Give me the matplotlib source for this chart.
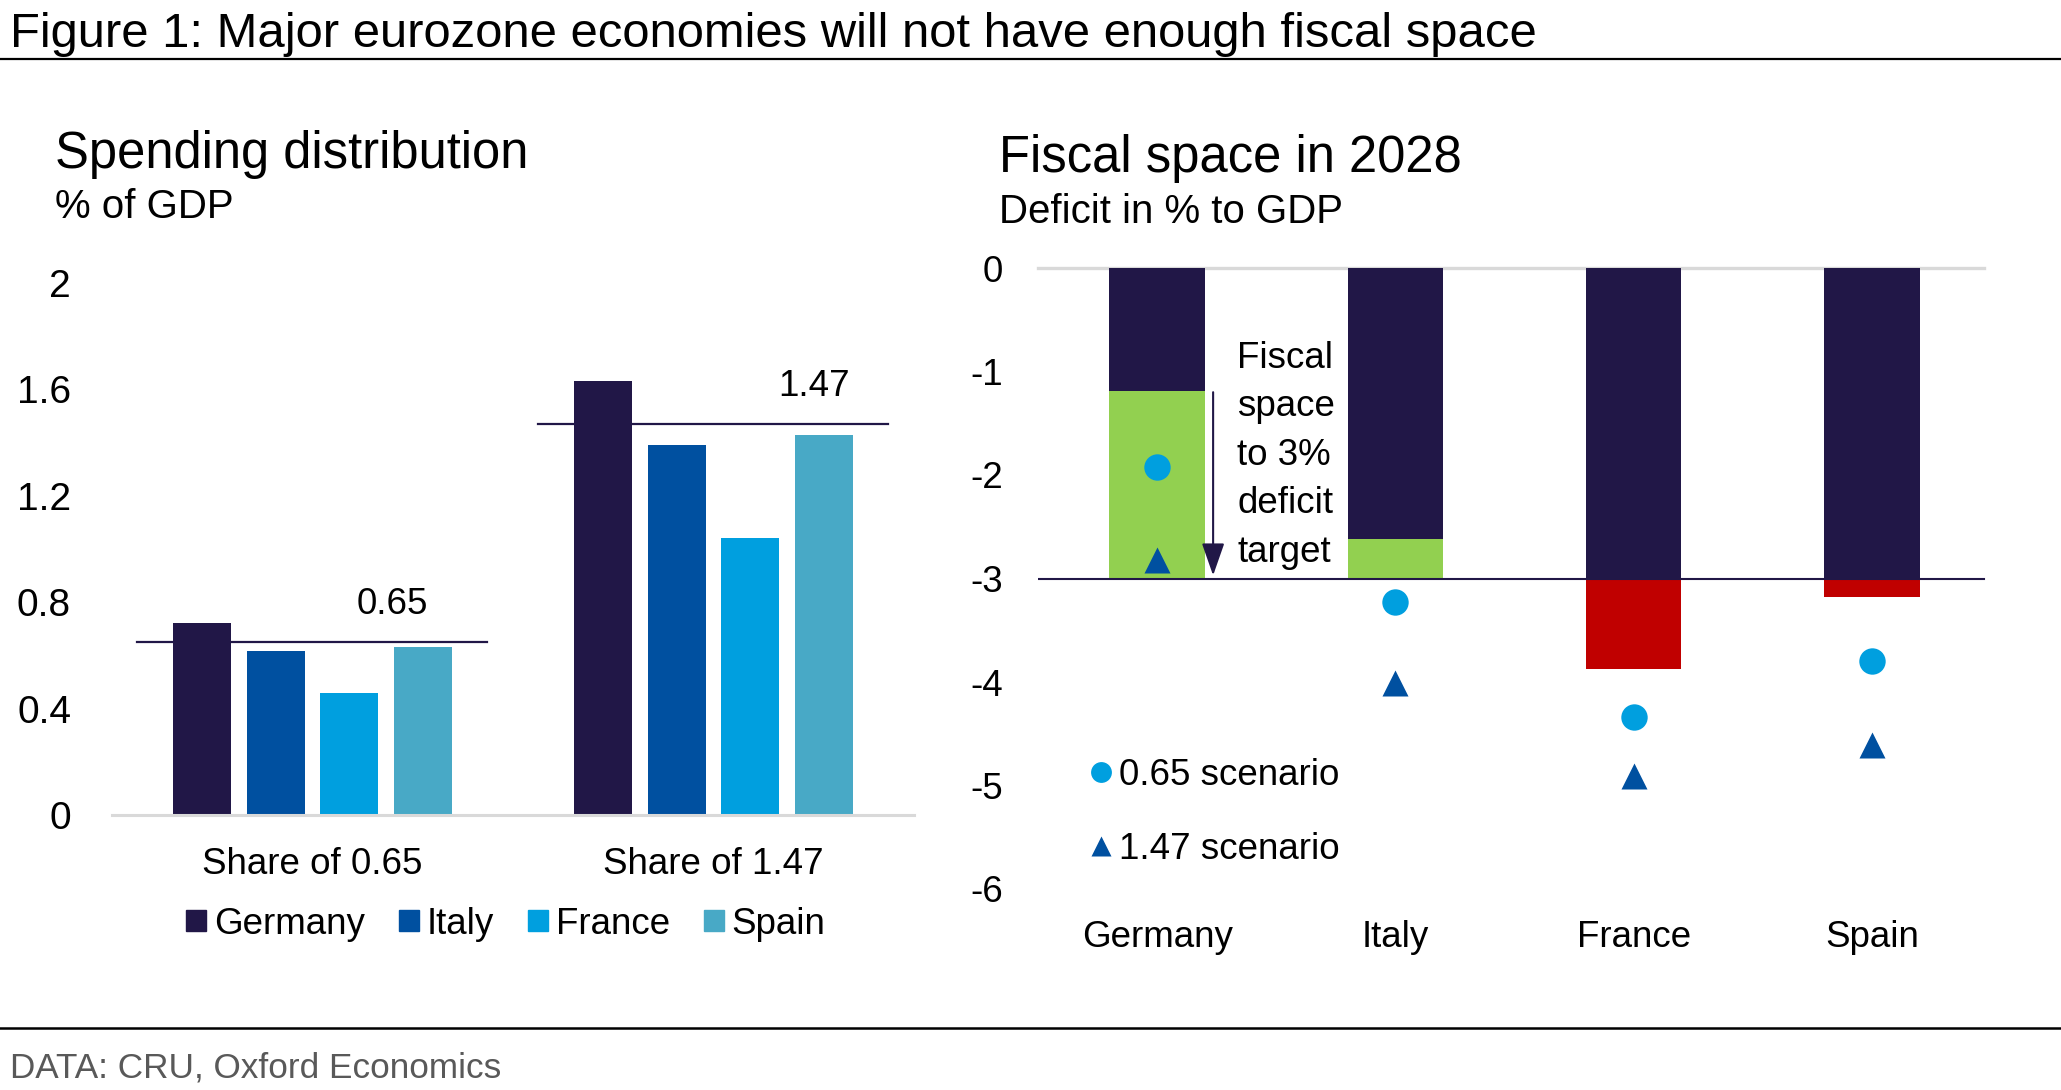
import matplotlib
matplotlib.use("Agg")
import matplotlib.pyplot as plt
from matplotlib.lines import Line2D
from matplotlib.patches import Patch
import numpy as np

plt.rcParams['font.family'] = ['Liberation Sans', 'DejaVu Sans']
plt.rcParams['axes.unicode_minus'] = False

# Figure size in pixels (dpi 100)
W, H = 2061, 1090

# Left panel: spending distribution, % of GDP
GROUPS = ["Share of 0.65", "Share of 1.47"]
SHARES = [0.65, 1.47]
COUNTRIES = ["Germany", "Italy", "France", "Spain"]
SPEND_065 = [0.72, 0.617, 0.46, 0.63]
SPEND_147 = [1.63, 1.39, 1.04, 1.43]

# Right panel: fiscal space in 2028, deficit in % of GDP
DEFICIT_2028 = [-1.19, -2.62, -3.87, -3.18]
TARGET = -3
SCEN_065 = [-1.92, -3.23, -4.34, -3.80]
SCEN_147 = [-2.82, -4.01, -4.91, -4.61]

# Colours
NAVY = "#211747"
C_COUNTRY = ["#211747", "#0050A0", "#009FDF", "#48A9C6"]
GREEN = "#92D050"
RED = "#C00000"
GRID = "#D9D9D9"

FS = 26.5
FS_SUB = 29
FS_TITLE = 35.3
FS_PANEL = 36.5

fig = plt.figure(figsize=(W / 100, H / 100), dpi=100)

# header / footer
fig.text(10 / W, 1 - 47 / H, "Figure 1: Major eurozone economies will not have enough fiscal space",
         fontsize=FS_TITLE, va="baseline", ha="left")
fig.add_artist(Line2D([0, 1], [1 - 59 / H, 1 - 59 / H], color="black", lw=1.6))
fig.add_artist(Line2D([0, 1], [1 - 1028 / H, 1 - 1028 / H], color="black", lw=1.8))
fig.text(10 / W, 1 - 1077 / H, "DATA: CRU, Oxford Economics", fontsize=25.3,
         color="#595959", va="baseline", ha="left")

# ---------------- left panel ----------------
ax1 = fig.add_axes([112 / W, 1 - 815 / H, 802 / W, 532 / H])
spend = np.array([SPEND_065, SPEND_147])  # groups x countries
xg = np.arange(len(GROUPS))
step = 0.1835
bw = 0.144
for i, c in enumerate(COUNTRIES):
    ax1.bar(xg + (i - 1.5) * step, spend[:, i], width=bw, color=C_COUNTRY[i],
            label=c, zorder=2)
for g, s in enumerate(SHARES):
    ax1.plot([g - 0.437, g + 0.435], [s, s], color=NAVY, lw=1.6, zorder=3)
    ax1.annotate(f"{s:.2f}", (g + 0.2 + 0.05 * g, s), xytext=(0, 20),
                 textcoords="offset points", ha="center", va="baseline", fontsize=FS)

ax1.set_xlim(-0.5, 1.5)
ax1.set_ylim(0, 2)
ax1.set_yticks([0, 0.4, 0.8, 1.2, 1.6, 2])
ax1.set_yticklabels(["0", "0.4", "0.8", "1.2", "1.6", "2"])
ax1.set_xticks(xg)
ax1.set_xticklabels(GROUPS)
ax1.tick_params(axis="y", length=0, pad=29.5, labelsize=28)
ax1.tick_params(axis="x", length=0, pad=23, labelsize=FS)
for sp in ["top", "right", "left"]:
    ax1.spines[sp].set_visible(False)
ax1.spines["bottom"].set_color(GRID)
ax1.spines["bottom"].set_linewidth(2.2)

handles = [Patch(color=C_COUNTRY[i], label=c) for i, c in enumerate(COUNTRIES)]
ax1.legend(handles=handles, loc="center", bbox_to_anchor=(0.491, -0.205), ncol=4,
           frameon=False, fontsize=FS, handlelength=0.54, handleheight=0.54,
           handletextpad=0.21, columnspacing=0.93, borderpad=0, borderaxespad=0)

fig.text(55 / W, 1 - 168 / H, "Spending distribution", fontsize=FS_PANEL, va="baseline")
fig.text(55 / W, 1 - 218 / H, "% of GDP", fontsize=FS_SUB, va="baseline")

# ---------------- right panel ----------------
ax2 = fig.add_axes([1038 / W, 1 - 889 / H, 953 / W, 621 / H])
xc = np.arange(len(COUNTRIES))
deficit = np.array(DEFICIT_2028)
bw2 = 0.40
navy_part = np.maximum(deficit, TARGET)
green_part = np.where(deficit > TARGET, TARGET - deficit, 0)
red_part = np.where(deficit < TARGET, deficit - TARGET, 0)
ax2.bar(xc, navy_part, width=bw2, color=NAVY, zorder=2)
ax2.bar(xc, green_part, bottom=deficit, width=bw2, color=GREEN, zorder=2)
ax2.bar(xc, red_part, bottom=TARGET, width=bw2, color=RED, zorder=2)

ax2.plot([-0.5, 3.47], [0, 0], color=GRID, lw=2.4, zorder=1, clip_on=False)
ax2.plot([-0.5, 3.47], [TARGET, TARGET], color=NAVY, lw=1.5, zorder=3)

ax2.plot(xc, SCEN_065, ls="none", marker="o", ms=19, color="#009FDF",
         mec="none", zorder=4)
ax2.plot(xc, SCEN_147, ls="none", marker="^", ms=19, color="#0050A0",
         mec="none", zorder=4)

ax2.annotate("", xy=(0.235, -2.97), xytext=(0.235, -1.2),
             arrowprops=dict(arrowstyle="-|>,head_length=1.0,head_width=0.35",
                             mutation_scale=20, color=NAVY, lw=1.5,
                             shrinkA=0, shrinkB=0), zorder=5)
ax2.text(0.336, -1.81, "Fiscal\nspace\nto 3%\ndeficit\ntarget", fontsize=FS,
         ha="left", va="center", linespacing=1.5, zorder=5)

ax2.set_xlim(-0.5, 3.5)
ax2.set_ylim(-6, 0)
ax2.set_yticks(range(-6, 1))
ax2.set_xticks(xc)
ax2.set_xticklabels(COUNTRIES)
ax2.tick_params(axis="y", length=0, pad=25, labelsize=FS)
ax2.tick_params(axis="x", length=0, pad=22, labelsize=FS)
for sp in ax2.spines.values():
    sp.set_visible(False)

leg_handles = [
    Line2D([], [], ls="none", marker="o", ms=15, color="#009FDF", mec="none", label="0.65 scenario"),
    Line2D([], [], ls="none", marker="^", ms=15, color="#0050A0", mec="none", label="1.47 scenario"),
]
ax2.legend(handles=leg_handles, loc="center left", bbox_to_anchor=(0.0546, 0.1232),
           frameon=False, fontsize=FS, handlelength=0.6, handletextpad=0.2,
           labelspacing=1.06, borderpad=0, borderaxespad=0)

fig.text(999 / W, 1 - 172 / H, "Fiscal space in 2028", fontsize=FS_PANEL, va="baseline")
fig.text(999 / W, 1 - 223 / H, "Deficit in % to GDP", fontsize=FS_SUB, va="baseline")

fig.savefig("out.png", dpi=100)
